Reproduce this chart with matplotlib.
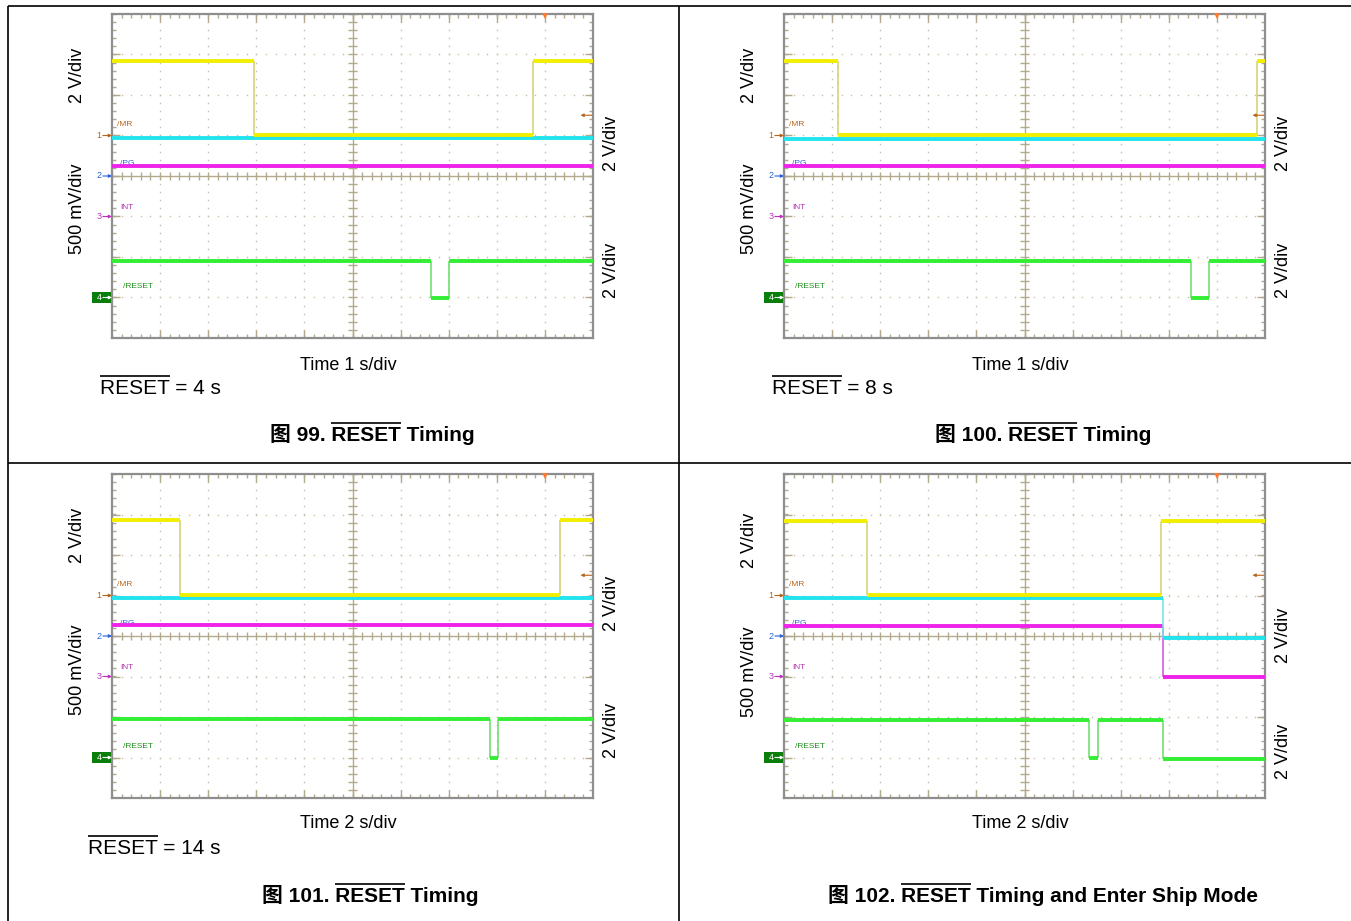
import matplotlib
matplotlib.use("Agg")
import matplotlib.pyplot as plt
import numpy as np
from matplotlib.lines import Line2D
from matplotlib.patches import Rectangle

W, H = 1351, 921
LATIN = ["Liberation Sans", "DejaVu Sans"]
CJK = ["Liberation Sans", "Noto Sans CJK SC"]
plt.rcParams["font.family"] = LATIN

# ---- data (x in divisions 0..10, y in divisions -4..4) ----
FIG_NO = [99, 100, 101, 102]
TIMEBASE = ["1 s/div", "1 s/div", "2 s/div", "2 s/div"]
RESET_NOTE = ["4 s", "8 s", "14 s", None]
CAPTION_TAIL = [" Timing", " Timing", " Timing", " Timing and Enter Ship Mode"]

# /MR  (ch1, yellow): edge times, levels between edges
MR_T = [[2.95, 8.76], [1.12, 9.84], [1.41, 9.31], [1.73, 7.84]]
MR_V = [[2.84, 1.02, 2.84], [2.84, 1.02, 2.84], [2.86, 1.02, 2.86], [2.83, 1.02, 2.83]]
# /PG  (ch2, cyan)
PG_T = [[], [], [], [7.88]]
PG_V = [[0.93], [0.92], [0.94], [0.93, -0.04]]
# INT  (ch3, magenta)
INT_T = [[], [], [], [7.88]]
INT_V = [[0.25], [0.25], [0.27], [0.25, -1.02]]
# /RESET (ch4, green)
RST_T = [[6.63, 7.01], [8.46, 8.84], [7.86, 8.02], [6.34, 6.52, 7.87]]
RST_V = [[-2.10, -3.02, -2.10], [-2.10, -3.02, -2.10], [-2.05, -3.0, -2.05],
         [-2.08, -3.0, -2.08, -3.04]]

CH_NAMES = ["/MR", "/PG", "INT", "/RESET"]
CH_GND = [1, 0, -1, -3]
TRIGGER_T = 9.0
TRIGGER_LVL = 1.5

# ---- styling ----
YEL, CYA, MAG, GRN = "#f2ee00", "#22e4ee", "#ee22e8", "#33ee33"
YEL_E, CYA_E, MAG_E, GRN_E = "#cfcf70", "#6fe6ee", "#d050d8", "#66dd66"
MARK = ["#b8651b", "#2a62d6", "#c030c0", "#0a7d0a"]
LBL = ["#b8651b", "#2a62d6", "#b030b0", "#1f8f1f"]
GRID = "#b3aa8e"
DOTS = "#c6bfa8"
FRAME = "#8e8e8e"

SCOPE_X = [112, 784, 112, 784]
SCOPE_Y = [14, 14, 474, 474]
SCOPE_W, SCOPE_H = 481, 324
LEFT_LBL = [(77, 75, 209), (749, 75, 209), (77, 535, 670), (749, 540, 672)]
RIGHT_LBL = [(612, 143, 270), (1284, 143, 270), (612, 603, 730), (1284, 635, 751)]
TEXT_BASE = [(369.5, 393.5, 440.5), (369.5, 393.5, 440.5),
             (828.5, 853.5, 901.5), (828.5, None, 901.5)]
RESET_X = [100, 772, 88, None]
CAP_X = [372, 1043, 370, 1043]

fig = plt.figure(figsize=(W / 100, H / 100), dpi=100)
fig.patch.set_facecolor("white")
renderer = fig.canvas.get_renderer()


def fx(x):
    return x / W


def fy(y):
    return 1 - y / H


def fig_line(x0, y0, x1, y1, lw=1.2, color="black"):
    fig.add_artist(Line2D([fx(x0), fx(x1)], [fy(y0), fy(y1)], transform=fig.transFigure,
                          color=color, lw=lw, solid_capstyle="butt"))


def text_width(s, **kw):
    t = fig.text(0, 0, s, **kw)
    w = t.get_window_extent(renderer).width
    t.remove()
    return w


def overlined(x, base, pre, word, post, size, weight, ha, family):
    kw = dict(fontsize=size, fontweight=weight, family=family)
    t = fig.text(fx(x), fy(base), pre + word + post, ha=ha, va="baseline", color="black", **kw)
    left = t.get_window_extent(renderer).x0
    x1 = left + text_width(pre + word, **kw)
    x0 = x1 - text_width(word, **kw)
    cap = 0.716 * size * 100 / 72
    oy = base - cap - 2.5
    fig_line(x0, oy, x1, oy, lw=1.2)


def trace(ax, t, v, color, edge, z):
    x = [0] + list(t) + [10]
    ax.hlines(v, x[:-1], x[1:], color=color, lw=2.8, zorder=z)
    for i, te in enumerate(t):
        ax.vlines(te, min(v[i], v[i + 1]), max(v[i], v[i + 1]), color=edge, lw=1.1, zorder=z - 0.5)


def scope_grid(ax):
    ax.set_xlim(0, 10)
    ax.set_ylim(-4, 4)
    ax.set_xticks([])
    ax.set_yticks([])
    for s in ax.spines.values():
        s.set_color(FRAME)
        s.set_linewidth(1.6)
    mx = np.arange(0, 10.001, 0.2)
    my = np.arange(-4, 4.001, 0.2)
    for gx in [1, 2, 3, 4, 6, 7, 8, 9]:
        ax.plot(np.full_like(my, gx), my, ls="none", marker="s", ms=1.0, mew=0, color=DOTS, zorder=1)
    for gy in [-3, -2, -1, 1, 2, 3]:
        ax.plot(mx, np.full_like(mx, gy), ls="none", marker="s", ms=1.0, mew=0, color=DOTS, zorder=1)
    ax.axvline(5, color=GRID, lw=1.0, zorder=1)
    ax.axhline(0, color=GRID, lw=1.0, zorder=1)
    ax.vlines(mx, -0.1, 0.1, color=GRID, lw=1.0, zorder=1)
    ax.hlines(my, 4.915, 5.085, color=GRID, lw=1.0, zorder=1)
    # frame ticks
    ax.vlines(mx, -4, -3.91, color=GRID, lw=1.0, zorder=1)
    ax.vlines(mx, 3.91, 4, color=GRID, lw=1.0, zorder=1)
    ax.hlines(my, 0, 0.08, color=GRID, lw=1.0, zorder=1)
    ax.hlines(my, 9.92, 10, color=GRID, lw=1.0, zorder=1)
    maj_x = np.arange(1, 10)
    maj_y = np.arange(-3, 4)
    ax.vlines(maj_x, -4, -3.8, color=GRID, lw=1.0, zorder=1)
    ax.vlines(maj_x, 3.8, 4, color=GRID, lw=1.0, zorder=1)
    ax.hlines(maj_y, 0, 0.17, color=GRID, lw=1.0, zorder=1)
    ax.hlines(maj_y, 9.83, 10, color=GRID, lw=1.0, zorder=1)


def markers(ax):
    arrow = dict(arrowstyle="-|>", lw=0.8, mutation_scale=4.5, shrinkA=0, shrinkB=0)
    for i, g in enumerate(CH_GND):
        if i == 3:
            ax.add_patch(Rectangle((-0.42, g - 0.14), 0.40, 0.28, facecolor=MARK[3],
                                   edgecolor="none", clip_on=False, zorder=5))
            c = "white"
        else:
            c = MARK[i]
        ax.text(-0.27, g, str(i + 1), color=c, fontsize=6.5, ha="center", va="center",
                clip_on=False, zorder=6)
        ax.annotate("", xy=(0.0, g), xytext=(-0.19, g), annotation_clip=False,
                    arrowprops=dict(arrow, color=c), zorder=6)
    # channel names
    ax.text(0.1, 1.28, CH_NAMES[0], color=LBL[0], fontsize=6, va="center", zorder=2)
    ax.text(0.17, 0.30, CH_NAMES[1], color=LBL[1], fontsize=6, va="center", zorder=2)
    ax.text(0.17, -0.79, CH_NAMES[2], color=LBL[2], fontsize=6, va="center", zorder=2)
    ax.text(0.23, -2.74, CH_NAMES[3], color=LBL[3], fontsize=6, va="center", zorder=2)
    # trigger level and trigger position
    ax.annotate("", xy=(9.74, TRIGGER_LVL), xytext=(9.98, TRIGGER_LVL), annotation_clip=False,
                arrowprops=dict(arrow, color=MARK[0]), zorder=6)
    ax.plot([TRIGGER_T], [3.95], marker="v", ms=5, color="#ff7a30", mew=0, clip_on=False, zorder=6)


for p in range(4):
    x0, y0 = SCOPE_X[p], SCOPE_Y[p]
    ax = fig.add_axes([fx(x0), fy(y0 + SCOPE_H), SCOPE_W / W, SCOPE_H / H])
    ax.set_facecolor("white")
    scope_grid(ax)
    markers(ax)
    trace(ax, INT_T[p], INT_V[p], MAG, MAG_E, 4)
    trace(ax, PG_T[p], PG_V[p], CYA, CYA_E, 5)
    trace(ax, MR_T[p], MR_V[p], YEL, YEL_E, 6)
    trace(ax, RST_T[p], RST_V[p], GRN, GRN_E, 7)

    lx, ly1, ly2 = LEFT_LBL[p]
    fig.text(fx(lx), fy(ly1), "2 V/div", rotation=90, ha="center", va="center", fontsize=13)
    fig.text(fx(lx), fy(ly2), "500 mV/div", rotation=90, ha="center", va="center", fontsize=13)
    rx, ry1, ry2 = RIGHT_LBL[p]
    fig.text(fx(rx), fy(ry1), "2 V/div", rotation=90, ha="center", va="center", fontsize=13)
    fig.text(fx(rx), fy(ry2), "2 V/div", rotation=90, ha="center", va="center", fontsize=13)

    tb, rb, cb = TEXT_BASE[p]
    fig.text(fx(x0 + SCOPE_W / 2 - 4), fy(tb), "Time " + TIMEBASE[p], ha="center", va="baseline",
             fontsize=13)
    if RESET_NOTE[p]:
        overlined(RESET_X[p], rb, "", "RESET", " = " + RESET_NOTE[p], 15, "normal", "left", LATIN)
    overlined(CAP_X[p], cb, f"图 {FIG_NO[p]}. ", "RESET", CAPTION_TAIL[p], 15, "bold", "center", CJK)

# page frame
fig_line(8, 6, W, 6)
fig_line(8, 6, 8, H)
fig_line(679, 6, 679, H)
fig_line(8, 463, W, 463)

fig.savefig("out.png", dpi=100, facecolor="white")
